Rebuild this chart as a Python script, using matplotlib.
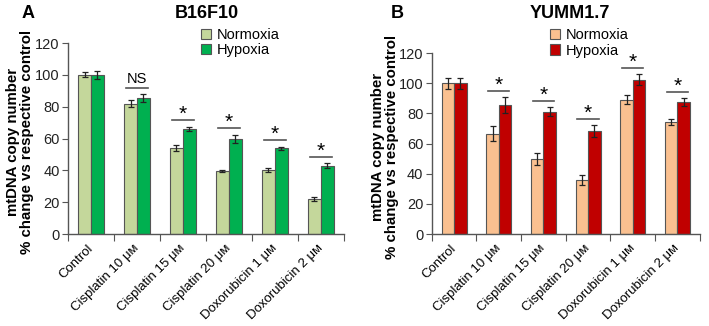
import matplotlib.pyplot as plt
import numpy as np

plt.rcParams['font.family'] = ['Liberation Sans', 'DejaVu Sans']

categories = ["Control", "Cisplatin 10 \u03bc\u1d0d", "Cisplatin 15 \u03bc\u1d0d", "Cisplatin 20 \u03bc\u1d0d",
              "Doxorubicin 1 \u03bc\u1d0d", "Doxorubicin 2 \u03bc\u1d0d"]

# B16F10
b16_norm = [100, 82, 54, 39.5, 40.5, 22]
b16_norm_err = [1.5, 2, 2, 0.7, 1.2, 1.5]
b16_hyp = [100, 85.5, 66, 60, 54, 43]
b16_hyp_err = [2.5, 2.5, 1.5, 2.5, 1, 1.5]
b16_sig = [None, "NS", "*", "*", "*", "*"]

# YUMM1.7
yumm_norm = [100, 66.5, 50, 36, 89, 74.5]
yumm_norm_err = [3.5, 5, 4, 3.5, 3, 2]
yumm_hyp = [100, 85.5, 81, 68.5, 102.5, 87.5]
yumm_hyp_err = [3.5, 5.5, 3, 4, 3.5, 2.5]
yumm_sig = [None, "*", "*", "*", "*", "*"]

fig = plt.figure(figsize=(7.09, 3.26), dpi=100)
ax1 = fig.add_axes([0.0959, 0.282, 0.389, 0.586])
ax2 = fig.add_axes([0.609, 0.282, 0.378, 0.555])


def draw_panel(ax, norm, norm_err, hyp, hyp_err, sig, c_norm, c_hyp, label_x):
    x = np.arange(len(categories))
    w = 0.28
    ekw = dict(ecolor="#222222", elinewidth=0.9, capsize=2.5, capthick=0.9)
    ax.bar(x - w / 2, norm, w, color=c_norm, edgecolor="#555555", linewidth=0.8,
           yerr=norm_err, error_kw=ekw, label="Normoxia")
    ax.bar(x + w / 2, hyp, w, color=c_hyp, edgecolor="#555555", linewidth=0.8,
           yerr=hyp_err, error_kw=ekw, label="Hypoxia")
    for i, s in enumerate(sig):
        if s is None:
            continue
        top = max(norm[i] + norm_err[i], hyp[i] + hyp_err[i]) + 4
        ax.plot([x[i] - w * 0.85, x[i] + w * 0.85], [top, top], color="#555555", lw=1.2)
        if s == "*":
            ax.text(x[i], top - 2.5, "*", ha="center", va="bottom", fontsize=15)
        else:
            ax.text(x[i], top + 1, s, ha="center", va="bottom", fontsize=10.5)
    ax.set_xlim(-0.5, len(categories) - 0.5)
    ax.set_ylim(0, 120)
    ax.set_yticks(range(0, 121, 20))
    # ticks sit between groups, labels at group centres
    ax.set_xticks(np.arange(-0.5, len(categories)))
    ax.set_xticklabels([])
    ax.set_xticks(x, minor=True)
    ax.set_xticklabels(categories, minor=True, rotation=45, ha="right", va="center",
                       rotation_mode="anchor", fontsize=9.5)
    ax.tick_params(axis="x", which="minor", length=0, pad=9)
    ax.tick_params(axis="x", which="major", length=5, color="#555555")
    ax.tick_params(axis="y", length=4, color="#555555", labelsize=10.5, pad=2, labelcolor="#222222")
    for side in ["top", "right"]:
        ax.spines[side].set_visible(False)
    for side in ["left", "bottom"]:
        ax.spines[side].set_color("#555555")
        ax.spines[side].set_linewidth(1.0)
    ax.set_ylabel("mtDNA copy number\n% change vs respective control", fontsize=10.8,
                  fontweight="bold", linespacing=1.0)
    ax.yaxis.set_label_coords(label_x, 0.48)


draw_panel(ax1, b16_norm, b16_norm_err, b16_hyp, b16_hyp_err, b16_sig, "#c4d79b", "#00b050", -0.125)
draw_panel(ax2, yumm_norm, yumm_norm_err, yumm_hyp, yumm_hyp_err, yumm_sig, "#fac090", "#c00000", -0.122)

leg_kw = dict(loc="upper left", frameon=False, fontsize=10.5, handlelength=0.7, handleheight=0.7,
              handletextpad=0.4, labelspacing=0.1, borderaxespad=0)
ax1.legend(bbox_to_anchor=(0.46, 1.11), **leg_kw)
ax2.legend(bbox_to_anchor=(0.42, 1.17), **leg_kw)

title_kw = dict(fontsize=13, fontweight="bold", ha="center", va="center")
fig.text(28 / 709, 1 - 14 / 326, "A", **title_kw)
fig.text(207 / 709, 1 - 14 / 326, "B16F10", **title_kw)
fig.text(397 / 709, 1 - 14 / 326, "B", **title_kw)
fig.text(570 / 709, 1 - 14 / 326, "YUMM1.7", **title_kw)

fig.savefig("out.png", dpi=100)
